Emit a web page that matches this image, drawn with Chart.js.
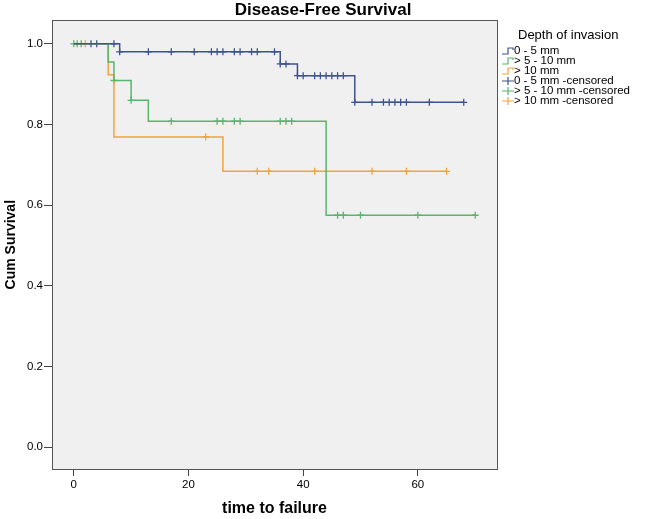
<!DOCTYPE html>
<html>
<head>
<meta charset="utf-8">
<script src="https://cdn.jsdelivr.net/npm/chart.js@4.4.0/dist/chart.umd.min.js"></script>
<style>
    body { margin: 0; background: #fff; }
    #wrap { width: 646px; height: 519px; }
</style>
</head>
<body>
<div id="wrap"><canvas id="kmChart"></canvas></div>
<script>
// groups
const groupNames = ['0 - 5 mm', '> 5 - 10 mm', '> 10 mm']
const groupColors = ['#3f5290', '#58b56c', '#f2a33a']

// step points (time of event, survival after it)
const blueTimes = [0, 8, 36, 39, 49, 68]
const blueSurv = [1.0, 0.98, 0.95, 0.921, 0.855, 0.855]
const greenTimes = [0, 6, 7, 10, 13, 44, 70]
const greenSurv = [1.0, 0.955, 0.909, 0.86, 0.808, 0.575, 0.575]
const orangeTimes = [0, 6, 7, 26, 65]
const orangeSurv = [1.0, 0.923, 0.769, 0.684, 0.684]

// censored times
const blueCensored = [3, 4, 7, 8, 13, 17, 21, 24, 25, 26, 28, 29, 31, 32, 35, 36, 37, 39, 40, 42, 43, 44, 45, 46, 47, 49, 52, 54, 55, 56, 57, 58, 62, 68]
const greenCensored = [0, 0.6, 1.3, 7, 10, 17, 25, 26, 28, 29, 36, 37, 38, 46, 47, 50, 60, 70]
const orangeCensored = [2, 23, 32, 34, 42, 52, 58, 65]

// axis ticks
const xTicks = [0, 20, 40, 60]
const yTicks = [0.0, 0.2, 0.4, 0.6, 0.8, 1.0]

const font = 'Liberation Sans, Arial, sans-serif'

// survival level in force at time t
levelAt = (times, surv, t) => {
    let s = surv[0]
    times.forEach((v, i) => { if (v <= t) s = surv[i] })
    return s
}

const groups = [
    { times: blueTimes, surv: blueSurv, censored: blueCensored },
    { times: greenTimes, surv: greenSurv, censored: greenCensored },
    { times: orangeTimes, surv: orangeSurv, censored: orangeCensored }
]

const datasets = []
groups.forEach((g, i) => {
    datasets.push({
        label: groupNames[i],
        data: g.times.map((t, k) => ({ x: t, y: g.surv[k] })),
        showLine: true,
        stepped: true,
        borderColor: groupColors[i],
        borderWidth: 1.5,
        pointRadius: 0
    })
})
groups.forEach((g, i) => {
    datasets.push({
        label: groupNames[i] + ' -censored',
        data: g.censored.map((t) => ({ x: t, y: levelAt(g.times, g.surv, t) })),
        showLine: false,
        pointStyle: 'cross',
        pointRadius: 3.5,
        pointBorderWidth: 1.3,
        borderColor: groupColors[i],
        backgroundColor: groupColors[i]
    })
})

// grey plot background and frame
const plotFrame = {
    id: 'plotFrame',
    beforeDraw(chart) {
        const { ctx, chartArea: a } = chart
        ctx.save()
        ctx.fillStyle = '#f0f0f0'
        ctx.fillRect(a.left, a.top, a.right - a.left, a.bottom - a.top)
        ctx.restore()
    },
    afterDraw(chart) {
        const { ctx, chartArea: a } = chart
        ctx.save()
        ctx.strokeStyle = '#555'
        ctx.lineWidth = 1
        ctx.strokeRect(Math.round(a.left) + 0.5, Math.round(a.top) + 0.5, Math.round(a.right - a.left), Math.round(a.bottom - a.top))
        ctx.restore()
    }
}

// SPSS style legend on the right
const sideLegend = {
    id: 'sideLegend',
    afterDraw(chart) {
        const ctx = chart.ctx
        ctx.save()
        ctx.fillStyle = '#000'
        ctx.textBaseline = 'middle'
        ctx.font = '13px ' + font
        ctx.fillText('Depth of invasion', 518, 35)
        ctx.font = '11.5px ' + font
        ctx.lineWidth = 1.2
        chart.data.datasets.forEach((ds, i) => {
            const y = 51 + i * 10
            const c = groupColors[i % 3]
            ctx.strokeStyle = c
            ctx.beginPath()
            if (i < 3) {
                ctx.moveTo(502, y + 3)
                ctx.lineTo(508, y + 3)
                ctx.lineTo(508, y - 3)
                ctx.lineTo(513, y - 3)
                ctx.lineTo(513, y - 1)
            } else {
                ctx.moveTo(502, y)
                ctx.lineTo(514, y)
                ctx.moveTo(508, y - 4)
                ctx.lineTo(508, y + 4)
            }
            ctx.stroke()
            ctx.fillText(ds.label, 514, y)
        })
        ctx.restore()
    }
}

const config = {
    type: 'scatter',
    data: { datasets: datasets },
    options: {
        responsive: true,
        maintainAspectRatio: false,
        animation: false,
        layout: { padding: 0 },
        plugins: {
            legend: { display: false },
            tooltip: { enabled: false },
            title: {
                display: true,
                text: 'Disease-Free Survival',
                color: '#000',
                font: { family: font, size: 17, weight: 'bold' },
                padding: { top: 0, bottom: 0 }
            }
        },
        scales: {
            x: {
                type: 'linear',
                min: -3.8,
                max: 73.8,
                afterBuildTicks: (s) => { s.ticks = xTicks.map((v) => ({ value: v })) },
                afterFit: (s) => { s.height = 50 },
                grid: { drawOnChartArea: false, tickLength: 7, color: '#444' },
                border: { display: false },
                ticks: { color: '#000', padding: 2, font: { family: font, size: 11.5 } },
                title: {
                    display: true,
                    text: 'time to failure',
                    color: '#000',
                    font: { family: font, size: 16, weight: 'bold' },
                    padding: { top: 0, bottom: 1 }
                }
            },
            y: {
                type: 'linear',
                min: -0.054,
                max: 1.058,
                afterBuildTicks: (s) => { s.ticks = yTicks.map((v) => ({ value: v })) },
                afterFit: (s) => { s.width = 52 },
                grid: { drawOnChartArea: false, tickLength: 8, color: '#444' },
                border: { display: false },
                ticks: { color: '#000', padding: 1, font: { family: font, size: 11.5 }, callback: (v) => v.toFixed(1) },
                title: {
                    display: true,
                    text: 'Cum Survival',
                    color: '#000',
                    font: { family: font, size: 14, weight: 'bold' },
                    padding: { top: 3, bottom: 0 }
                }
            },
            // empty axis that keeps room for the legend
            pad: {
                type: 'linear',
                position: 'right',
                display: true,
                grid: { display: false },
                border: { display: false },
                ticks: { display: false },
                afterFit: (s) => { s.width = 149 }
            }
        }
    },
    plugins: [plotFrame, sideLegend]
}

document.addEventListener('DOMContentLoaded', () => {
    new Chart(document.querySelector('#kmChart'), config)
})
</script>
</body>
</html>
